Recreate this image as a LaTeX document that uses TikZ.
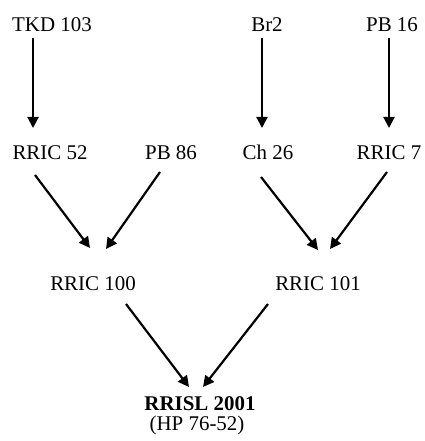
\documentclass[tikz,border=0pt]{standalone}
\usepackage{fontspec}
\setmainfont{Liberation Serif}
\usetikzlibrary{arrows.meta}

\begin{document}
\begin{tikzpicture}[x=1bp,y=-1bp,
  clone/.style={anchor=base,inner sep=0pt,font=\fontsize{21}{25}\selectfont},
  cross/.style={-{Triangle[length=11bp,width=11bp]},line width=2.2bp}]
  \useasboundingbox (0,0) rectangle (424,441);
  % Parents
  \node[clone] (tkd) at (52,32) {TKD 103};
  \node[clone] (br2) at (267,32) {Br2};
  \node[clone] (pb16) at (392,32) {PB 16};
  % First generation
  \node[clone] (r52) at (50,160) {RRIC 52};
  \node[clone] (pb86) at (171,160) {PB 86};
  \node[clone] (ch26) at (268,160) {Ch 26};
  \node[clone] (r7) at (389,160) {RRIC 7};
  % Second generation
  \node[clone] (r100) at (93,290) {RRIC 100};
  \node[clone] (r101) at (318,290) {RRIC 101};
  % Final clone
  \node[clone,font=\fontsize{21}{25}\selectfont\bfseries] (rrisl) at (200,410) {RRISL 2001};
  \node[clone] (hp) at (197,430) {(HP 76-52)};
  % Arrows
  \draw[cross] ([shift={(-19,6)}]tkd.base) -- ([shift={(-17,-32)}]r52.base);
  \draw[cross] ([shift={(-5,6)}]br2.base) -- ([shift={(-6,-32)}]ch26.base);
  \draw[cross] ([shift={(-3,6)}]pb16.base) -- ([shift={(0,-32)}]r7.base);
  \draw[cross] ([shift={(-15,15)}]r52.base) -- ([shift={(-3,-42)}]r100.base);
  \draw[cross] ([shift={(-11,12)}]pb86.base) -- ([shift={(13,-41)}]r100.base);
  \draw[cross] ([shift={(-7,17)}]ch26.base) -- ([shift={(0,-40)}]r101.base);
  \draw[cross] ([shift={(-2,12)}]r7.base) -- ([shift={(12,-41)}]r101.base);
  \draw[cross] ([shift={(33,14)}]r100.base) -- ([shift={(-11,-23)}]rrisl.base);
  \draw[cross] ([shift={(-50,14)}]r101.base) -- ([shift={(3,-23)}]rrisl.base);
\end{tikzpicture}
\end{document}
